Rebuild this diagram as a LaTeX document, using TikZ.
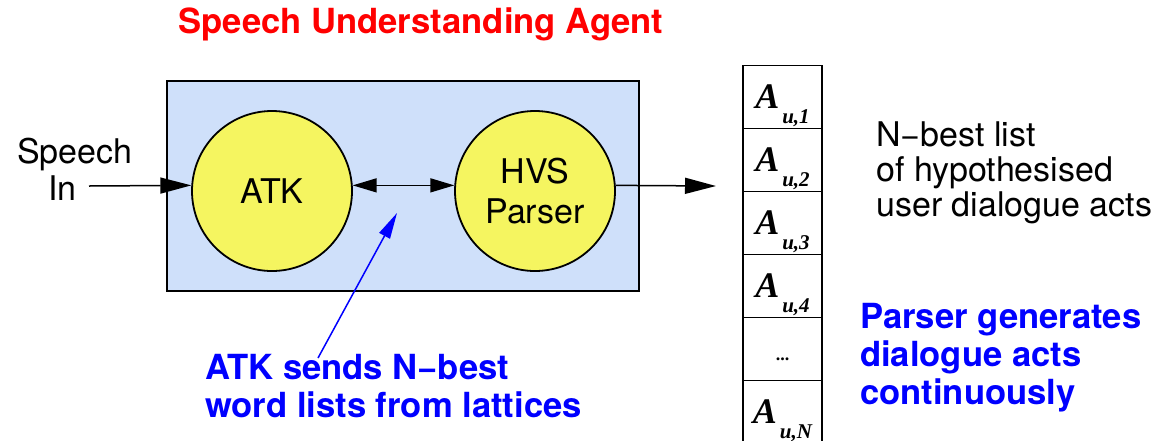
\documentclass[tikz,border=0pt]{standalone}
\usepackage{fontspec}
\setmainfont{TeX Gyre Heros}
\newfontfamily\actfont{Liberation Serif}
\usetikzlibrary{arrows.meta}
\definecolor{agentfill}{RGB}{207,224,250}
\definecolor{modfill}{RGB}{245,245,96}
\definecolor{titlered}{RGB}{255,0,0}
\definecolor{noteblue}{RGB}{0,0,255}
% dialogue act label: A with a lowered subscript
\newcommand{\actlabel}[1]{{\actfont\bfseries\itshape\fontsize{36}{36}\selectfont A}\hspace{3pt}{\actfont\bfseries\itshape\fontsize{21}{21}\selectfont\raisebox{-15pt}{#1}}}
\begin{document}
\begin{tikzpicture}[x=1pt,y=-1pt,
  agent/.style={draw, line width=1.8pt, fill=agentfill, minimum width=472pt, minimum height=210pt, inner sep=0pt},
  module/.style={circle, draw, line width=1.8pt, fill=modfill, minimum size=160pt, inner sep=0pt, font=\fontsize{34}{40}\selectfont, align=center},
  cell/.style={draw, line width=1.8pt, minimum width=79pt, minimum height=63pt, inner sep=0pt, text height=24pt, text depth=2pt},
  flow/.style={line width=1.5pt, -{Triangle[length=31pt,width=16pt]}},
  link/.style={line width=1.5pt, {Triangle[length=24pt,width=14pt]}-{Triangle[length=24pt,width=14pt]}},
  pointer/.style={line width=1.5pt, draw=noteblue, -{Triangle[length=26pt,width=12pt]}},
  plain/.style={font=\fontsize{34}{35}\selectfont, inner sep=0pt, align=left},
  note/.style={font=\bfseries\fontsize{34.6}{38}\selectfont, text=noteblue, inner sep=0pt, align=left}]
\useasboundingbox (0,0) rectangle (1158,440);

% title
\node[anchor=base, inner sep=0pt, text=titlered, font=\bfseries\fontsize{34.6}{38}\selectfont] (title) at (421,33) {Speech Understanding Agent};

% agent box and its two modules
\node[agent] (agent) at (403,186) {};
\node[module] (atk) at (272,191) {ATK};
\node[module] (hvs) at (535,191) {HVS\\Parser};

% speech input
\node[plain, anchor=base west] (speech) at (17,163) {Speech};
\node[plain, anchor=base west] (in) at (48,200) {In};
\coordinate (sin) at (89,186);
\coordinate (sout) at (716,186);
\draw[flow] (sin) -- (atk.176);
\draw[link] (atk.4) -- (hvs.176);
\draw[flow] (hvs.4) -- (sout);

% N-best list of dialogue acts
\node[cell] (r1) at (782.5,97) {\actlabel{u,1}};
\node[cell] (r2) at (782.5,160) {\actlabel{u,2}};
\node[cell] (r3) at (782.5,223) {\actlabel{u,3}};
\node[cell] (r4) at (782.5,286) {\actlabel{u,4}};
\node[cell] (r5) at (782.5,349) {{\actfont\bfseries\fontsize{18}{18}\selectfont ...}};
\node[cell] (r6) at (782.5,412) {\actlabel{u,N}};

% multi-line texts are placed by the baseline of their last line
\node[plain, anchor=base west] (nbest) at (876,216) {N−best list\\of hypothesised\\user dialogue acts};

% annotations
\node[note, anchor=base west] (gen) at (860,404) {Parser generates\\dialogue acts\\continuously};
\node[note, anchor=base west] (sends) at (205,417) {ATK sends N−best\\word lists from lattices};
\coordinate (ptail) at (318,358);
\coordinate (phead) at (397,213);
\draw[pointer] (ptail) -- (phead);
\end{tikzpicture}
\end{document}
